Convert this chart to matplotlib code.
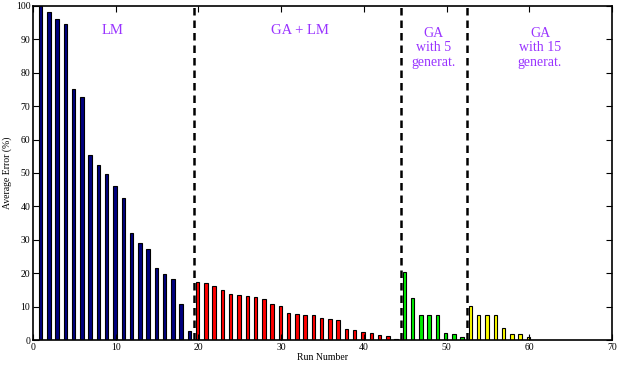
import matplotlib
matplotlib.use('Agg')
import matplotlib.pyplot as plt

plt.rcParams['font.family'] = 'Liberation Serif'

# Run numbers and errors for each method
lm_runs = list(range(1, 20))
lm_err = [100, 98.2, 96.1, 94.6, 75.1, 72.7, 55.5, 52.3, 49.7, 46.1,
          42.4, 32.0, 29.0, 27.2, 21.5, 19.8, 18.3, 10.8, 2.8]

galm_runs = list(range(20, 45))
galm_err = [17.3, 17.0, 16.1, 14.9, 13.9, 13.4, 13.1, 13.0, 12.2, 10.7,
            10.1, 8.2, 7.7, 7.6, 7.4, 6.5, 6.2, 5.9, 3.4, 2.9,
            2.3, 2.0, 1.5, 1.2, 0.2]

ga5_runs = list(range(45, 53))
ga5_err = [20.3, 12.5, 7.4, 7.4, 7.4, 2.2, 1.7, 0.8]

ga15_runs = list(range(53, 61))
ga15_err = [10.2, 7.4, 7.4, 7.4, 3.5, 1.7, 1.7, 0.8]

separators = [19.45, 44.5, 52.5]

fig = plt.figure(figsize=(6.25, 3.7), dpi=100)
ax = fig.add_axes([0.053, 0.081, 0.926, 0.903])

w = 0.42
ax.bar([r - 0.1 for r in lm_runs], lm_err, width=w, color='#000080', edgecolor='black', linewidth=0.8)
ax.bar([r - 0.1 for r in galm_runs], galm_err, width=w, color='#ff0000', edgecolor='black', linewidth=0.8)
ax.bar([r - 0.1 for r in ga5_runs], ga5_err, width=w, color='#00ee00', edgecolor='black', linewidth=0.8)
ax.bar([r - 0.1 for r in ga15_runs], ga15_err, width=w, color='#ffff00', edgecolor='black', linewidth=0.8)

for s in separators:
    ax.axvline(s, color='black', linestyle='--', linewidth=1.8, dashes=(3, 2))

purple = '#9933ff'
ax.text(9.65, 92.7, 'LM', color=purple, fontsize=10.5, ha='center', va='center')
ax.text(32.3, 92.7, 'GA + LM', color=purple, fontsize=10.5, ha='center', va='center')
ax.text(48.4, 87.5, 'GA\nwith 5\ngenerat.', color=purple, fontsize=10, ha='center', va='center', linespacing=1.15)
ax.text(61.3, 87.5, 'GA\nwith 15\ngenerat.', color=purple, fontsize=10, ha='center', va='center', linespacing=1.15)

ax.set_xlim(0, 70)
ax.set_ylim(0, 100)
ax.set_xticks(range(0, 71, 10))
ax.set_yticks(range(0, 101, 10))
ax.tick_params(direction='in', top=True, right=True, length=4, labelsize=7, pad=2)
ax.set_xlabel('Run Number', fontsize=7, labelpad=1)
ax.set_ylabel('Average Error (%)', fontsize=7, labelpad=3)

for sp in ax.spines.values():
    sp.set_linewidth(1.2)

fig.savefig('out.png', dpi=100)
